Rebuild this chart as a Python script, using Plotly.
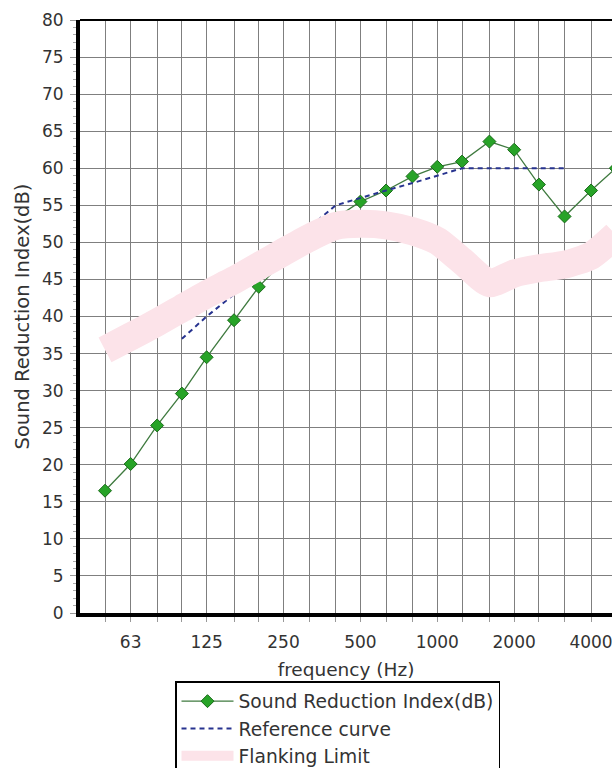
import plotly.graph_objects as go
import math

# Third-octave band centre frequencies (Hz)
freqs = [50, 63, 80, 100, 125, 160, 200, 250, 315, 400, 500, 630, 800,
         1000, 1250, 1600, 2000, 2500, 3150, 4000, 5000]

# Sound Reduction Index (dB)
sri = [16.5, 20.1, 25.3, 29.6, 34.5, 39.5, 44.0, 47.5, 50.5, 53.3, 55.5,
       57.0, 58.9, 60.2, 60.9, 63.6, 62.5, 57.8, 53.5, 57.0, 60.0]

# Shifted reference curve (100 Hz - 3150 Hz)
ref_freqs = [100, 125, 160, 200, 250, 315, 400, 500, 630, 800, 1000, 1250,
             1600, 2000, 2500, 3150]
ref_vals = [37, 40, 43, 46, 49, 52, 55, 56, 57, 58, 59, 60, 60, 60, 60, 60]

# Flanking limit (dB)
flank = [35.5, 37.3, 39.2, 41.1, 43.0, 44.9, 46.8, 48.7, 50.6, 52.2, 52.5,
         52.3, 51.5, 50.2, 47.5, 44.5, 45.8, 46.5, 47.0, 48.2, 51.0]

tick_freqs = freqs
tick_labels = ["", "63", "", "", "125", "", "", "250", "", "", "500", "", "",
               "1000", "", "", "2000", "", "", "4000", ""]

FONT = "DejaVu Sans"

fig = go.Figure()

fig.add_trace(go.Scatter(
    x=freqs, y=sri, mode="lines+markers",
    name="Sound Reduction Index(dB)",
    line=dict(color="#3f7a3f", width=1.3),
    marker=dict(symbol="diamond", size=10, color="#27a327",
                line=dict(color="#1b6b1b", width=1)),
    legendgroup="a",
))
fig.add_trace(go.Scatter(
    x=ref_freqs, y=ref_vals, mode="lines",
    name="Reference curve",
    line=dict(color="#27338f", width=2, dash="5px,4px"),
    legendgroup="b",
))
fig.add_trace(go.Scatter(
    x=freqs, y=flank, mode="lines",
    name="Flanking Limit",
    line=dict(color="#fce3e9", width=28, shape="spline", smoothing=0.6),
    legendgroup="c",
))

W, H = 612, 768
ML, MT, MB = 80, 20, 155
plot_w = W - ML
plot_h = H - MT - MB
x0 = math.log10(50) - 25 / 255.4
x1 = x0 + plot_w / 255.4

fig.update_layout(
    width=W, height=H,
    margin=dict(l=ML, r=0, t=MT, b=MB, autoexpand=False),
    paper_bgcolor="white", plot_bgcolor="white",
    font=dict(family=FONT, color="#333333", size=17),
    showlegend=True,
    legend=dict(
        x=(175 - ML) / plot_w, y=((H - MB) - 681) / plot_h,
        xanchor="left", yanchor="top",
        bordercolor="black", borderwidth=1.5, bgcolor="white",
        font=dict(family=FONT, size=18.7, color="#333333"),
        itemwidth=52, traceorder="grouped", tracegroupgap=0,
    ),
    shapes=[dict(type="line", xref="paper", yref="paper", x0=0, x1=1,
                 y0=1, y1=1, line=dict(color="black", width=2))],
    annotations=[dict(
        text="Sound Reduction Index(dB)", textangle=-90,
        xref="paper", yref="paper", x=-(ML - 22) / plot_w, y=0.5,
        xanchor="center", yanchor="middle", showarrow=False,
        font=dict(family=FONT, size=19.5, color="#333333"),
    )],
)

fig.update_xaxes(
    type="log", range=[x0, x1],
    tickvals=tick_freqs, ticktext=tick_labels,
    showgrid=True, gridcolor="#7f7f7f", gridwidth=1,
    showline=True, linecolor="black", linewidth=3.5,
    ticks="outside", ticklen=5, tickcolor="#999999",
    ticklabelstandoff=6, ticklabeloverflow="allow",
    tickfont=dict(family=FONT, size=17, color="#333333"),
    title=dict(text="frequency (Hz)", standoff=13,
               font=dict(family=FONT, size=18.5, color="#333333")),
    zeroline=False,
)

fig.update_yaxes(
    range=[0, 80], dtick=5, tick0=0,
    showgrid=True, gridcolor="#7f7f7f", gridwidth=1,
    showline=True, linecolor="black", linewidth=4,
    ticks="outside", ticklen=6, tickcolor="#999999",
    ticklabelstandoff=3,
    minor=dict(dtick=1, ticks="outside", ticklen=3, tickcolor="#aaaaaa",
               showgrid=False),
    tickfont=dict(family=FONT, size=17, color="#333333"),
    zeroline=False,
)

fig.write_html(
    "out.html",
    config={"displayModeBar": False},
    post_script="document.body.style.margin='0';"
                "document.body.style.overflow='hidden';",
)
